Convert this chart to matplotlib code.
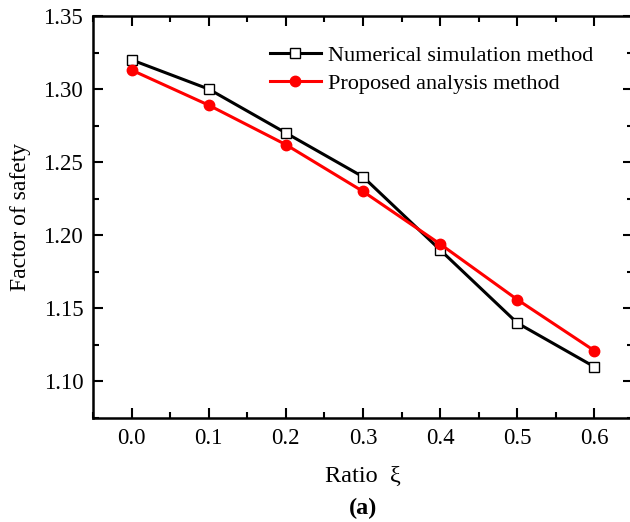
import numpy as np
import matplotlib
matplotlib.use("Agg")
import matplotlib.pyplot as plt
from matplotlib.ticker import MultipleLocator

plt.rcParams["font.family"] = ["Liberation Serif", "DejaVu Serif"]
plt.rcParams["mathtext.fontset"] = "stix"

ratio = [0.0, 0.1, 0.2, 0.3, 0.4, 0.5, 0.6]
numerical = [1.320, 1.300, 1.270, 1.240, 1.190, 1.140, 1.110]
proposed = [1.313, 1.289, 1.262, 1.230, 1.194, 1.156, 1.121]

fig = plt.figure(figsize=(6.3, 5.22), dpi=100)
# axes runs slightly past the right edge like the cropped original
ax = fig.add_axes([93 / 630, 1 - 418 / 522, 540 / 630, 402 / 522])

ax.plot(ratio, numerical, color="black", lw=2.2, marker="s", ms=7,
        mfc="white", mec="black", mew=1.0, label="Numerical simulation method")
ax.plot(ratio, proposed, color="red", lw=2.2, marker="o", ms=7.5,
        mfc="red", mec="red", label="Proposed analysis method")

ax.set_xlim(-0.05, 0.65)
ax.set_ylim(1.075, 1.35)
ax.set_xticks(ratio)
ax.set_yticks([1.10, 1.15, 1.20, 1.25, 1.30, 1.35])
ax.xaxis.set_minor_locator(MultipleLocator(0.05))
ax.yaxis.set_minor_locator(MultipleLocator(0.025))
ax.xaxis.set_major_formatter(lambda v, p: f"{v:.1f}")
ax.yaxis.set_major_formatter(lambda v, p: f"{v:.2f}")

ax.tick_params(which="both", direction="in", top=True, right=True, width=1.5)
ax.tick_params(which="major", length=7, labelsize=16.5, pad=7)
ax.tick_params(which="minor", length=4)
for s in ax.spines.values():
    s.set_linewidth(1.8)

ax.set_xlabel("Ratio  ξ", fontsize=17.5, labelpad=12)
ax.set_ylabel("Factor of safety", fontsize=17, labelpad=9)
ax.text(0.5, -0.225, "(a)", transform=ax.transAxes, ha="center", va="center",
        fontsize=17.5, fontweight="bold")

ax.legend(loc="upper left", bbox_to_anchor=(0.311, 0.95), frameon=False,
          fontsize=16, handlelength=2.3, handletextpad=0.3, labelspacing=0.35,
          borderaxespad=0)

fig.savefig("out.png", dpi=100)
